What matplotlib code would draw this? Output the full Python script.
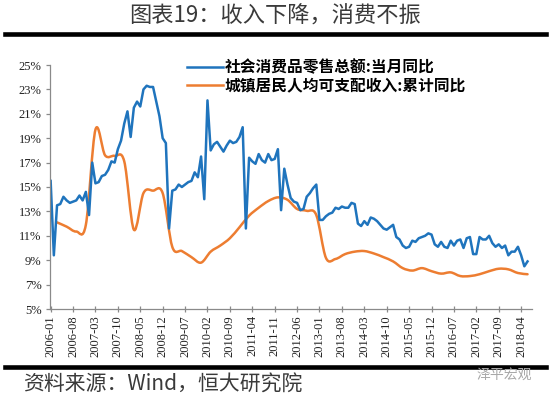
import matplotlib
matplotlib.use('Agg')
import matplotlib.pyplot as plt
from matplotlib.path import Path
from matplotlib.patches import PathPatch
from matplotlib.lines import Line2D
import numpy as np

plt.rcParams['font.family'] = ['Noto Sans CJK SC', 'DejaVu Sans']

# 社会消费品零售总额:当月同比 (%), monthly 2006-01 .. 2018-06
retail_2006 = [15.5, 9.4, 13.5, 13.6, 14.2, 13.9, 13.7, 13.8, 13.9, 14.3, 13.9, 14.6]
retail_2007 = [12.7, 17.0, 15.3, 15.4, 15.9, 16.0, 16.4, 17.1, 17.0, 18.1, 18.8, 20.2]
retail_2008 = [21.2, 19.1, 21.5, 22.0, 21.6, 23.0, 23.3, 23.2, 23.2, 22.0, 20.8, 19.0]
retail_2009 = [18.6, 11.6, 14.7, 14.8, 15.2, 15.0, 15.2, 15.4, 15.5, 16.2, 15.8, 17.5]
retail_2010 = [14.0, 22.1, 18.0, 18.5, 18.7, 18.3, 17.9, 18.4, 18.8, 18.6, 18.7, 19.1]
retail_2011 = [19.9, 11.6, 17.4, 17.1, 16.9, 17.7, 17.2, 17.0, 17.7, 17.2, 17.3, 18.1]
retail_2012 = [13.1, 16.5, 15.2, 14.1, 13.8, 13.7, 13.1, 13.2, 14.2, 14.5, 14.9, 15.2]
retail_2013 = [12.3, 12.3, 12.6, 12.8, 12.9, 13.3, 13.2, 13.4, 13.3, 13.3, 13.7, 13.6]
retail_2014 = [12.0, 11.8, 12.2, 11.9, 12.5, 12.4, 12.2, 11.9, 11.6, 11.5, 11.7, 11.9]
retail_2015 = [10.9, 10.7, 10.2, 10.0, 10.1, 10.6, 10.5, 10.8, 10.9, 11.0, 11.2, 11.1]
retail_2016 = [10.3, 10.1, 10.5, 10.1, 10.0, 10.6, 10.2, 10.6, 10.7, 10.0, 10.8, 10.9]
retail_2017 = [9.5, 9.5, 10.9, 10.7, 10.7, 11.0, 10.4, 10.1, 10.3, 10.0, 10.2, 9.4]
retail_2018 = [9.7, 9.7, 10.1, 9.4, 8.5, 8.9]

# 城镇居民人均可支配收入:累计同比 (%), quarter ends 2006-03 .. 2018-06
income_2006 = [12.1, 11.75, 11.35, 11.9]
income_2007 = [19.7, 17.6, 17.55, 17.1]
income_2008 = [11.5, 14.5, 14.7, 14.5]
income_2009 = [10.1, 9.75, 9.25, 8.8]
income_2010 = [9.7, 10.2, 10.8, 11.7]
income_2011 = [12.65, 13.3, 13.85, 14.15]
income_2012 = [13.95, 13.2, 13.05, 12.7]
income_2013 = [9.2, 9.1, 9.5, 9.7]
income_2014 = [9.75, 9.55, 9.25, 8.9]
income_2015 = [8.35, 8.15, 8.35, 8.1]
income_2016 = [7.9, 8.0, 7.7, 7.7]
income_2017 = [7.85, 8.1, 8.3, 8.25]
income_2018 = [7.95, 7.85]

tick_labels = ['2006-01', '2006-08', '2007-03', '2007-10', '2008-05', '2008-12',
               '2009-07', '2010-02', '2010-09', '2011-04', '2011-11', '2012-06',
               '2013-01', '2013-08', '2014-03', '2014-10', '2015-05', '2015-12',
               '2016-07', '2017-02', '2017-09', '2018-04']

retail = np.array(retail_2006 + retail_2007 + retail_2008 + retail_2009 + retail_2010
                  + retail_2011 + retail_2012 + retail_2013 + retail_2014 + retail_2015
                  + retail_2016 + retail_2017 + retail_2018)
income = np.array(income_2006 + income_2007 + income_2008 + income_2009 + income_2010
                  + income_2011 + income_2012 + income_2013 + income_2014 + income_2015
                  + income_2016 + income_2017 + income_2018)

def month_index(s):
    y, m = s.split('-')
    return (int(y) - 2006) * 12 + int(m) - 1

retail_x = np.arange(len(retail))
income_x = 2 + 3 * np.arange(len(income))   # March, June, Sept, Dec
tick_pos = [month_index(s) for s in tick_labels]

BLUE = '#1f74bd'
ORANGE = '#ed7d31'

fig = plt.figure(figsize=(5.5, 3.99), dpi=100)
ax = fig.add_axes([50 / 550, 1 - 309 / 399, 481.7 / 550, 244 / 399])

ax.plot(retail_x, retail, color=BLUE, lw=1.8, solid_joinstyle='round')

# smoothed line through the quarterly points (like Excel's smoothed line)
pts = np.column_stack([income_x, income]).astype(float)
ext = np.vstack([pts[0], pts, pts[-1]])
verts = [tuple(pts[0])]
codes = [Path.MOVETO]
for i in range(1, len(ext) - 2):
    p0, p1, p2, p3 = ext[i - 1], ext[i], ext[i + 1], ext[i + 2]
    verts += [tuple(p1 + (p2 - p0) / 6), tuple(p2 - (p3 - p1) / 6), tuple(p2)]
    codes += [Path.CURVE4] * 3
ax.add_patch(PathPatch(Path(verts, codes), fill=False, edgecolor=ORANGE, lw=1.8,
                       capstyle='round', joinstyle='round'))

ax.set_xlim(-0.2, 150.3)
ax.set_ylim(5, 25)
yt = np.arange(5, 26, 2)
ax.set_yticks(yt)
ax.set_yticklabels([f'{v}%' for v in yt], family='Liberation Serif', fontsize=9)
ax.set_xticks(tick_pos)
ax.set_xticklabels(tick_labels, rotation=90, family='Liberation Serif', fontsize=9)

for s in ['top', 'right']:
    ax.spines[s].set_visible(False)
for s in ['left', 'bottom']:
    ax.spines[s].set_color('#8a8a8a')
    ax.spines[s].set_linewidth(0.9)
ax.tick_params(axis='y', length=3, width=0.9, color='#8a8a8a', pad=3, labelcolor='#222222')
ax.tick_params(axis='x', direction='inout', length=5, width=0.9, color='#8a8a8a',
               pad=2, labelcolor='#222222')

handles = [Line2D([], [], color=BLUE, lw=1.8), Line2D([], [], color=ORANGE, lw=1.8)]
fig.legend(handles, ['社会消费品零售总额:当月同比', '城镇居民人均可支配收入:累计同比'],
           loc='upper left', bbox_to_anchor=(187 / 550, 1 - 59 / 399), frameon=False,
           prop={'size': 11.3, 'weight': 'bold'}, handlelength=2.3, handletextpad=0.1,
           labelspacing=0.15, borderpad=0, borderaxespad=0)

fig.text(275 / 550, 1 - 16.5 / 399, '图表19：收入下降，消费不振', ha='center', va='center',
         fontsize=16, color='#3a3a3a', fontweight='light')
fig.add_artist(Line2D([5 / 550, 546 / 550], [1 - 34 / 399] * 2, color='black', lw=3.3,
                      transform=fig.transFigure))
fig.add_artist(Line2D([5 / 550, 546 / 550], [1 - 367 / 399] * 2, color='black', lw=3.3,
                      transform=fig.transFigure))
fig.text(23 / 550, 1 - 385 / 399, '资料来源：Wind，恒大研究院', ha='left', va='center',
         fontsize=15, color='#3a3a3a', fontweight='light')
fig.text(532 / 550, 1 - 375 / 399, '泽平宏观', ha='right', va='center',
         fontsize=10, color='#a8a8a8')

fig.savefig('out.png', dpi=100)
